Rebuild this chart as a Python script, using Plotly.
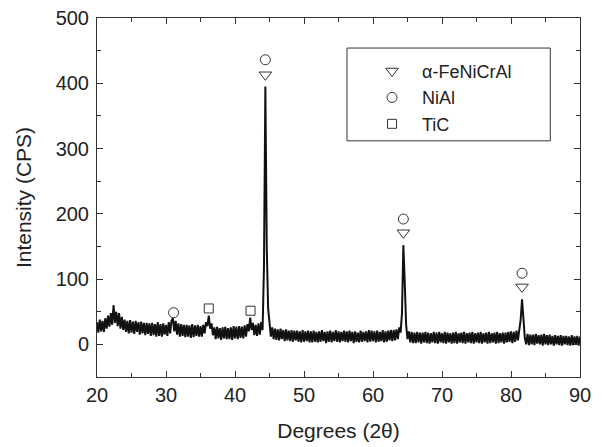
import numpy as np
import plotly.graph_objects as go

# 2-theta grid (0.2 degree step, 20..90)
two_theta = np.round(np.arange(20.0, 90.0001, 0.2), 1)

# Intensity (CPS), one row per degree (x.0, x.2, x.4, x.6, x.8)
intensity = [
    34, 18, 38, 20, 36,   # 20
    19, 40, 24, 44, 27,   # 21
    48, 30, 60, 33, 50,   # 22
    28, 48, 24, 42, 22,   # 23
    38, 19, 36, 17, 37,   # 24
    18, 35, 16, 36, 19,   # 25
    34, 15, 35, 17, 33,   # 26
    14, 33, 16, 32, 13,   # 27
    33, 14, 31, 12, 34,   # 28
    13, 31, 12, 32, 15,   # 29
    30, 13, 34, 17, 36,   # 30
    40, 20, 36, 15, 32,   # 31
    12, 31, 13, 30, 11,   # 32
    30, 12, 29, 10, 31,   # 33
    11, 29, 13, 30, 12,   # 34
    28, 12, 30, 17, 34,   # 35
    28, 44, 24, 32, 14,   # 36
    26, 8, 27, 9, 25,     # 37
    7, 26, 9, 27, 8,      # 38
    25, 8, 26, 7, 28,     # 39
    9, 27, 8, 28, 10,     # 40
    27, 9, 29, 12, 31,    # 41
    20, 41, 22, 33, 14,   # 42
    30, 13, 32, 15, 34,   # 43
    22, 120, 395, 150, 55,  # 44
    38, 12, 26, 8, 24,    # 45
    7, 23, 6, 24, 8,      # 46
    22, 5, 23, 6, 21,     # 47
    5, 22, 4, 21, 6,      # 48
    21, 4, 20, 3, 22,     # 49
    4, 20, 5, 21, 3,      # 50
    20, 3, 21, 4, 19,     # 51
    3, 20, 4, 22, 5,      # 52
    19, 2, 20, 4, 21,     # 53
    3, 19, 5, 22, 4,      # 54
    20, 3, 19, 5, 21,     # 55
    4, 20, 3, 21, 5,      # 56
    19, 2, 20, 4, 18,     # 57
    3, 21, 4, 19, 5,      # 58
    20, 3, 22, 4, 21,     # 59
    5, 20, 3, 21, 4,      # 60
    19, 5, 22, 3, 20,     # 61
    4, 21, 6, 22, 5,      # 62
    22, 6, 23, 8, 26,     # 63
    18, 48, 152, 95, 30,  # 64
    8, 20, 3, 19, 2,      # 65
    18, 2, 19, 3, 18,     # 66
    1, 18, 3, 19, 2,      # 67
    18, 1, 17, 3, 19,     # 68
    2, 18, 1, 19, 3,      # 69
    17, 2, 19, 1, 18,     # 70
    3, 17, 1, 18, 2,      # 71
    19, 1, 17, 3, 18,     # 72
    2, 19, 1, 17, 3,      # 73
    18, 2, 19, 1, 17,     # 74
    3, 18, 2, 19, 1,      # 75
    17, 3, 18, 1, 19,     # 76
    2, 17, 3, 18, 1,      # 77
    19, 2, 17, 3, 18,     # 78
    1, 18, 3, 19, 4,      # 79
    20, 2, 19, 4, 21,     # 80
    6, 22, 38, 69, 30,    # 81
    10, 0, 16, -1, 15,    # 82
    0, 15, -1, 16, 1,     # 83
    14, 0, 15, -2, 16,    # 84
    0, 14, -1, 15, 0,     # 85
    13, -2, 14, 0, 13,    # 86
    -1, 14, -2, 13, 0,    # 87
    13, -1, 12, -2, 14,   # 88
    -1, 12, 0, 13, -2,    # 89
    12,                   # 90
]

# Phase markers (position, height of symbol)
fe_x = [44.4, 64.4, 81.6]
fe_y = [413, 171, 88]
nial_x = [31.1, 44.4, 64.4, 81.6]
nial_y = [48.5, 436, 192, 109]
tic_x = [36.2, 42.25]
tic_y = [55, 51.5]

x_ticks = [20, 30, 40, 50, 60, 70, 80, 90]
y_ticks = [0, 100, 200, 300, 400, 500]

FONT = "Arial, Liberation Sans, sans-serif"
INK = "#111111"
MK = "#333333"
TXT = "#222222"

fig = go.Figure()
fig.add_trace(go.Scatter(x=two_theta, y=intensity, mode="lines",
                         line=dict(color=INK, width=2), showlegend=False,
                         hoverinfo="skip"))
fig.add_trace(go.Scatter(x=fe_x, y=fe_y, mode="markers", name="\u03b1-FeNiCrAl",
                         legendgroup="a",
                         marker=dict(symbol="triangle-down-open", size=11, color=MK,
                                     line=dict(width=1, color=MK))))
fig.add_trace(go.Scatter(x=nial_x, y=nial_y, mode="markers", name="NiAl",
                         legendgroup="b",
                         marker=dict(symbol="circle-open", size=10, color=MK,
                                     line=dict(width=1, color=MK))))
fig.add_trace(go.Scatter(x=tic_x, y=tic_y, mode="markers", name="TiC",
                         legendgroup="c",
                         marker=dict(symbol="square-open", size=9, color=MK,
                                     line=dict(width=1, color=MK))))

axis_common = dict(showline=True, linecolor="#333333", linewidth=1, mirror="ticks",
                   ticks="inside", ticklen=6, tickwidth=1, tickcolor="#333333",
                   showgrid=False, zeroline=False, ticklabeloverflow="allow",
                   automargin=False,
                   tickfont=dict(family=FONT, size=20, color=TXT))

fig.update_xaxes(range=[20, 90], tickvals=x_ticks,
                 minor=dict(dtick=5, ticks="inside", ticklen=4, tickcolor="#333333"),
                 ticklabelstandoff=0,
                 title=dict(text="Degrees (2\u03b8)", font=dict(family=FONT, size=21, color=TXT),
                            standoff=18),
                 **axis_common)
fig.update_yaxes(range=[-50, 500], tickvals=y_ticks,
                 minor=dict(dtick=50, ticks="inside", ticklen=4, tickcolor="#333333"),
                 ticklabelstandoff=3,
                 title=dict(text="Intensity (CPS)", font=dict(family=FONT, size=21, color=TXT),
                            standoff=18),
                 **axis_common)

# legend frame
fig.add_shape(type="rect", xref="paper", yref="paper",
              x0=0.5176, x1=0.9385, y0=0.6578, y1=0.9163,
              line=dict(color="#333333", width=1), fillcolor="rgba(0,0,0,0)")

fig.update_layout(
    width=602, height=447,
    margin=dict(l=89, r=30, t=10, b=78, autoexpand=False),
    plot_bgcolor="white", paper_bgcolor="white",
    font=dict(family=FONT, size=18, color=TXT),
    legend=dict(x=0.5487, y=0.903, xanchor="left", yanchor="top",
                bgcolor="rgba(0,0,0,0)", borderwidth=0,
                itemwidth=50, traceorder="grouped", tracegroupgap=0,
                font=dict(family=FONT, size=18, color=TXT)),
)

fig.write_html("out.html")
